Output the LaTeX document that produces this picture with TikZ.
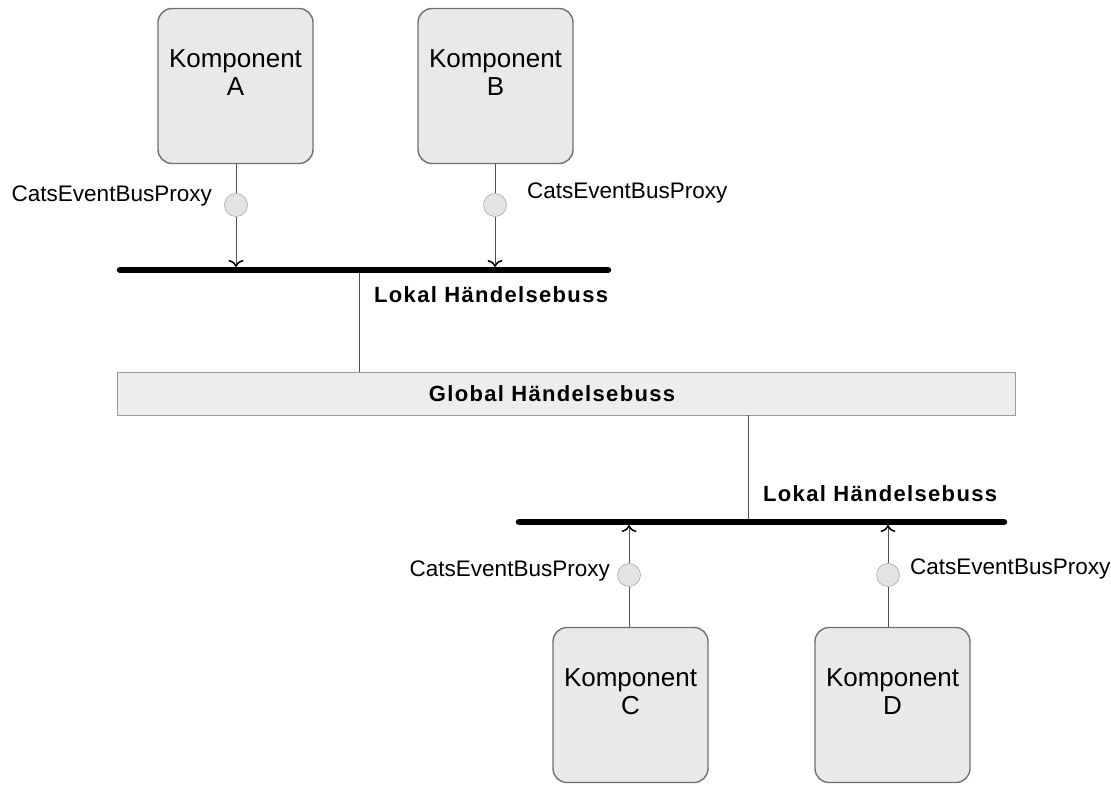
\documentclass[tikz,border=0pt]{standalone}
\usepackage{fontspec}
\setmainfont{Liberation Sans}
\newfontfamily\busfont[LetterSpace=6,BoldFont={Liberation Sans Bold}]{Liberation Sans}
\usetikzlibrary{arrows.meta}
\definecolor{boxfill}{HTML}{E9E9E9}
\definecolor{boxline}{HTML}{707070}
\definecolor{wire}{HTML}{505050}
\definecolor{barfill}{HTML}{EDEDED}
\definecolor{barline}{HTML}{9A9A9A}
\begin{document}
\begin{tikzpicture}[x=1pt,y=-1pt,
  comp/.style={draw=boxline,line width=1.4pt,fill=boxfill,rounded corners=14pt,
    minimum width=155pt,minimum height=155pt,inner sep=0pt,
    label={[font=\fontsize{26}{28}\selectfont,align=center,yshift=13pt]center:Komponent\\#1}},
  port/.style={circle,draw=gray!65,fill=gray!22,line width=0.6pt,minimum size=23pt,inner sep=0pt},
  wirestyle/.style={draw=wire,line width=0.7pt},
  bus/.style={line width=6.5pt,line cap=round,black},
  tip/.style={-{To[length=7pt,width=15pt,line width=1.5pt,color=black]}},
  proxy/.style={font=\fontsize{22.5}{26}\selectfont,inner sep=0pt},
  buslabel/.style={font=\busfont\bfseries\fontsize{22}{24}\selectfont,inner sep=0pt}]
\useasboundingbox (0,0) rectangle (1111,802);

% components
\node[comp=A] (A) at (235.5,86) {};
\node[comp=B] (B) at (495.5,86) {};
\node[comp=C] (C) at (630.5,705) {};
\node[comp=D] (D) at (892.5,705) {};

% local buses
\coordinate (L1w) at (120,270);
\coordinate (L1e) at (608,270);
\coordinate (L2w) at (519,522);
\coordinate (L2e) at (1004,522);
\draw[bus] (L1w) -- (L1e);
\draw[bus] (L2w) -- (L2e);
\node[buslabel,anchor=base west] (l1) at (374,303) {Lokal Händelsebuss};
\node[buslabel,anchor=base west] (l2) at (763,501) {Lokal Händelsebuss};

% global bus
\node[draw=barline,line width=0.8pt,fill=barfill,minimum width=898pt,minimum height=43pt,
  inner sep=0pt] (G) at (566.5,393.5) {};
\node[buslabel] (gl) at (552,393.5) {Global Händelsebuss};

% links between local and global buses
\coordinate (t1) at (359,273);
\coordinate (t2) at (748,519);
\draw[wirestyle] (t1) -- (t1 |- G.north);
\draw[wirestyle] (G.south -| t2) -- (t2);

% proxies, upper side
\node[port] (pA) at (236,205) {};
\node[port] (pB) at (495,205) {};
\coordinate (eA) at (236,267);
\coordinate (eB) at (495,267);
\draw[wirestyle] (A.south -| pA) -- (pA);
\draw[wirestyle,tip] (pA) -- (eA);
\draw[wirestyle] (B.south -| pB) -- (pB);
\draw[wirestyle,tip] (pB) -- (eB);
\node[proxy,anchor=base east] (xA) at (212,202) {CatsEventBusProxy};
\node[proxy,anchor=base west] (xB) at (527,199) {CatsEventBusProxy};

% proxies, lower side
\node[port] (pC) at (629,575) {};
\node[port] (pD) at (888,575) {};
\coordinate (eC) at (629,525);
\coordinate (eD) at (888,525);
\draw[wirestyle] (C.north -| pC) -- (pC);
\draw[wirestyle,tip] (pC) -- (eC);
\draw[wirestyle] (D.north -| pD) -- (pD);
\draw[wirestyle,tip] (pD) -- (eD);
\node[proxy,anchor=base east] (xC) at (610,576) {CatsEventBusProxy};
\node[proxy,anchor=base west] (xD) at (910,574) {CatsEventBusProxy};
\end{tikzpicture}
\end{document}
